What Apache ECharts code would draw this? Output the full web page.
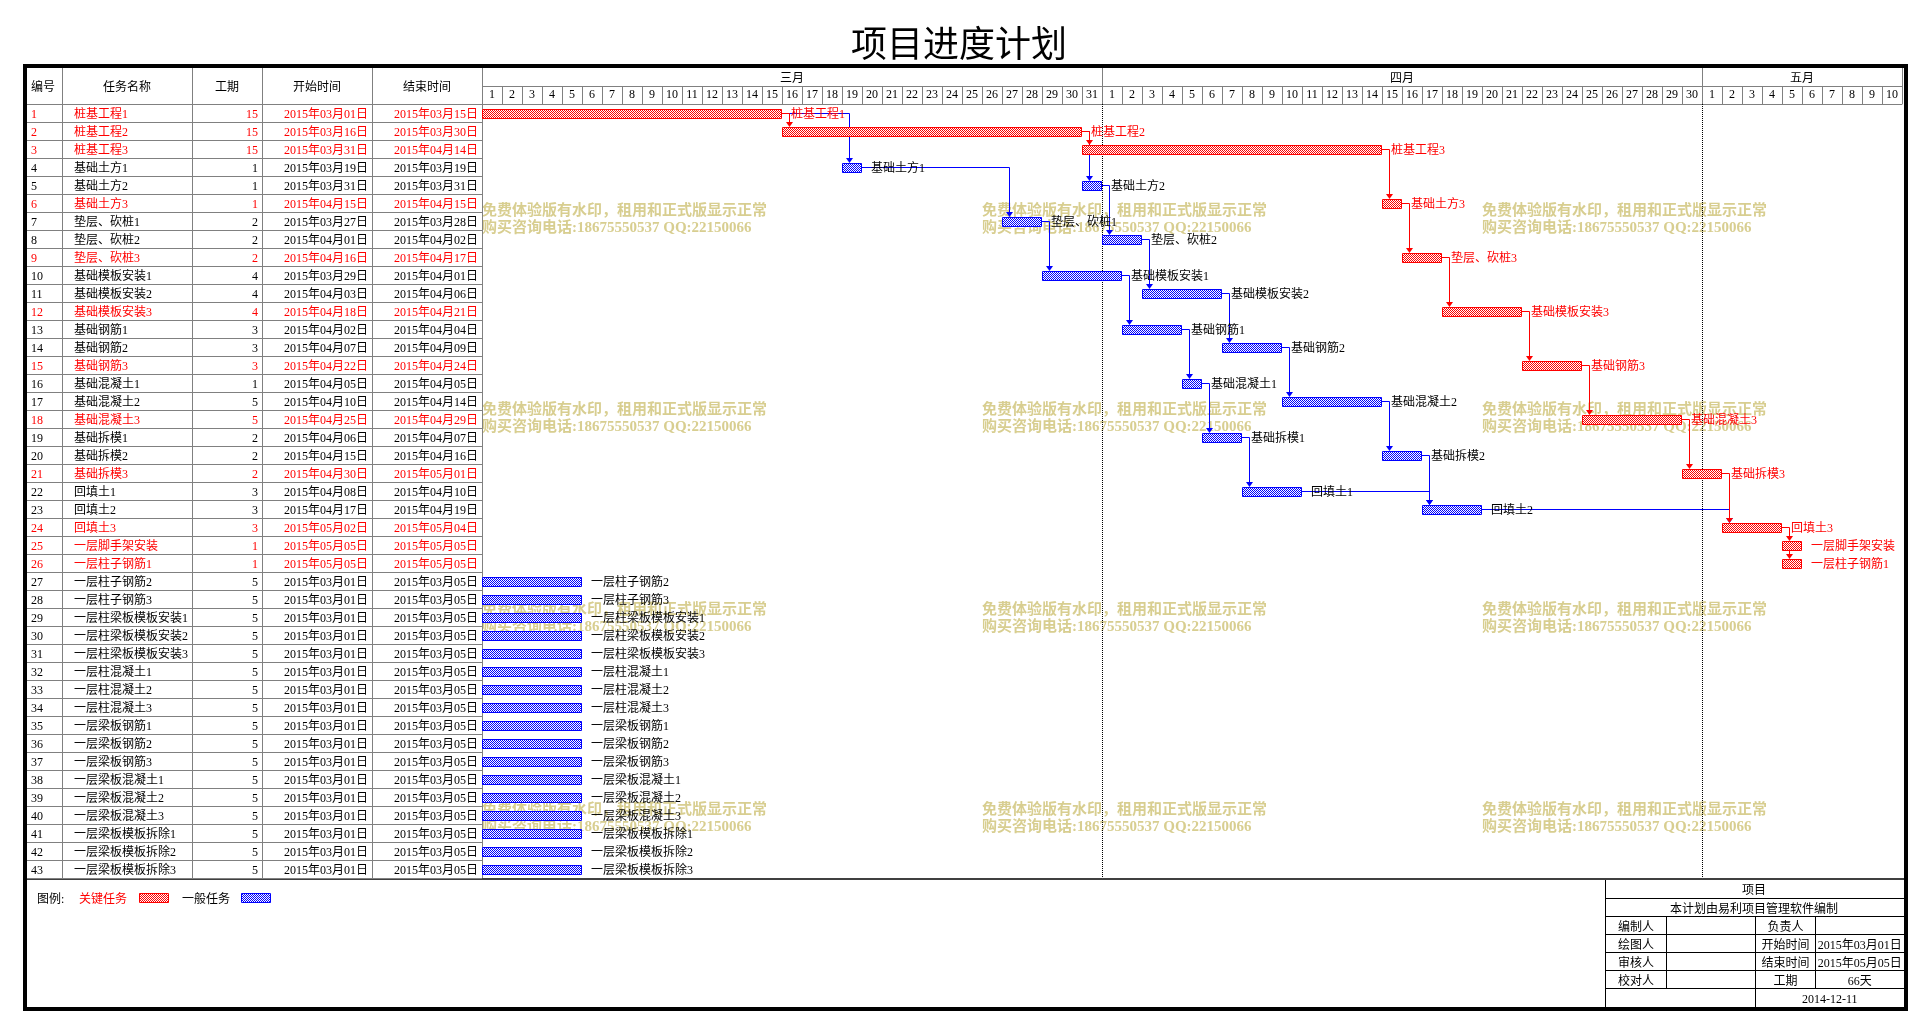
<!DOCTYPE html>
<html><head><meta charset="utf-8">
<script src="https://cdn.jsdelivr.net/npm/echarts@6/dist/echarts.min.js"></script>
<style>html,body{margin:0;padding:0;background:#fff}#main{width:1929px;height:1033px}</style>
</head><body><div id="main"></div>
<script>
// ---------------- DATA ----------------
const chartTitle = '项目进度计划';
const columnHeaders = ['编号', '任务名称', '工期', '开始时间', '结束时间'];
const monthNames = ['三月', '四月', '五月'];
const monthLengths = [31, 30, 10];
const dayLabels = ['1','2','3','4','5','6','7','8','9','10','11','12','13','14','15','16','17','18','19','20','21','22','23','24','25','26','27','28','29','30','31',
  '1','2','3','4','5','6','7','8','9','10','11','12','13','14','15','16','17','18','19','20','21','22','23','24','25','26','27','28','29','30',
  '1','2','3','4','5','6','7','8','9','10'];
const taskIds = [1,2,3,4,5,6,7,8,9,10,11,12,13,14,15,16,17,18,19,20,21,22,23,24,25,26,27,28,29,30,31,32,33,34,35,36,37,38,39,40,41,42,43];
const taskNames = ['桩基工程1','桩基工程2','桩基工程3','基础土方1','基础土方2','基础土方3','垫层、砍桩1','垫层、砍桩2','垫层、砍桩3',
  '基础模板安装1','基础模板安装2','基础模板安装3','基础钢筋1','基础钢筋2','基础钢筋3','基础混凝土1','基础混凝土2','基础混凝土3',
  '基础拆模1','基础拆模2','基础拆模3','回填土1','回填土2','回填土3','一层脚手架安装','一层柱子钢筋1','一层柱子钢筋2','一层柱子钢筋3',
  '一层柱梁板模板安装1','一层柱梁板模板安装2','一层柱梁板模板安装3','一层柱混凝土1','一层柱混凝土2','一层柱混凝土3',
  '一层梁板钢筋1','一层梁板钢筋2','一层梁板钢筋3','一层梁板混凝土1','一层梁板混凝土2','一层梁板混凝土3',
  '一层梁板模板拆除1','一层梁板模板拆除2','一层梁板模板拆除3'];
const durations = [15,15,15,1,1,1,2,2,2,4,4,4,3,3,3,1,5,5,2,2,2,3,3,3,1,1,5,5,5,5,5,5,5,5,5,5,5,5,5,5,5,5,5];
const startDates = ['2015年03月01日','2015年03月16日','2015年03月31日','2015年03月19日','2015年03月31日','2015年04月15日',
  '2015年03月27日','2015年04月01日','2015年04月16日','2015年03月29日','2015年04月03日','2015年04月18日',
  '2015年04月02日','2015年04月07日','2015年04月22日','2015年04月05日','2015年04月10日','2015年04月25日',
  '2015年04月06日','2015年04月15日','2015年04月30日','2015年04月08日','2015年04月17日','2015年05月02日',
  '2015年05月05日','2015年05月05日','2015年03月01日','2015年03月01日','2015年03月01日','2015年03月01日',
  '2015年03月01日','2015年03月01日','2015年03月01日','2015年03月01日','2015年03月01日','2015年03月01日',
  '2015年03月01日','2015年03月01日','2015年03月01日','2015年03月01日','2015年03月01日','2015年03月01日','2015年03月01日'];
const endDates = ['2015年03月15日','2015年03月30日','2015年04月14日','2015年03月19日','2015年03月31日','2015年04月15日',
  '2015年03月28日','2015年04月02日','2015年04月17日','2015年04月01日','2015年04月06日','2015年04月21日',
  '2015年04月04日','2015年04月09日','2015年04月24日','2015年04月05日','2015年04月14日','2015年04月29日',
  '2015年04月07日','2015年04月16日','2015年05月01日','2015年04月10日','2015年04月19日','2015年05月04日',
  '2015年05月05日','2015年05月05日','2015年03月05日','2015年03月05日','2015年03月05日','2015年03月05日',
  '2015年03月05日','2015年03月05日','2015年03月05日','2015年03月05日','2015年03月05日','2015年03月05日',
  '2015年03月05日','2015年03月05日','2015年03月05日','2015年03月05日','2015年03月05日','2015年03月05日','2015年03月05日'];
const critical = [1,1,1,0,0,1,0,0,1,0,0,1,0,0,1,0,0,1,0,0,1,0,0,1,1,1,0,0,0,0,0,0,0,0,0,0,0,0,0,0,0,0,0];
const predecessors = [[],[1],[2],[1],[2],[3],[4],[5],[6],[7],[8],[9],[10],[11],[12],[13],[14],[15],[16],[17],[18],[19],[20,22],[21,23],[24],[25],
  [],[],[],[],[],[],[],[],[],[],[],[],[],[],[],[],[]];
const legendTitle = '图例:';
const legendItems = ['关键任务', '一般任务'];
const infoHeader = '项目';
const infoNote = '本计划由易利项目管理软件编制';
const infoLeftLabels = ['编制人', '绘图人', '审核人', '校对人'];
const infoRightLabels = ['负责人', '开始时间', '结束时间', '工期'];
const infoRightValues = ['', '2015年03月01日', '2015年05月05日', '66天'];
const infoDate = '2014-12-11';
const watermarkLines = ['免费体验版有水印，租用和正式版显示正常', '购买咨询电话:18675550537 QQ:22150066'];

// ---------------- DERIVED ----------------
const ORIGIN = Date.UTC(2015, 2, 1);
function dayOff(s) { const m = s.match(/(\d+)年(\d+)月(\d+)日/); return Math.round((Date.UTC(+m[1], +m[2] - 1, +m[3]) - ORIGIN) / 86400000); }
const startOff = startDates.map(dayOff);
const endOff = endDates.map(d => dayOff(d) + 1);
const totalDays = monthLengths.reduce((a, b) => a + b, 0);
const monthRanges = []; { let c = 0; monthLengths.forEach((n, k) => { monthRanges.push([c, c + n, k]); c += n; }); }
const links = [];
predecessors.forEach((ps, t) => ps.forEach(p => links.push([p - 1, t, (critical[p - 1] && critical[t]) ? 1 : 0])));
links.sort((a, b) => a[2] - b[2]);

// ---------------- STYLE ----------------
const FONTFAM = '"Liberation Serif", "Noto Sans CJK SC", serif';
const FONT = '12px ' + FONTFAM;
const TY = 2; // baseline nudge for mixed-font text
const RED = '#ff0000', BLUE = '#0000ff', GRID = '#808080';
function pattern(color) {
  const c = document.createElement('canvas'); c.width = 2; c.height = 2;
  const g = c.getContext('2d'); g.fillStyle = '#ffffff'; g.fillRect(0, 0, 2, 2);
  g.fillStyle = color; g.fillRect(0, 0, 1, 1); g.fillRect(1, 1, 1, 1);
  return { image: c, repeat: 'repeat' };
}
const redPat = pattern(RED), bluePat = pattern(BLUE);
function txt(x, y, text, fill, align, font) {
  return { type: 'text', x: x, y: y + TY, silent: true, style: { text: text, fill: fill, font: font || FONT, align: align || 'left', verticalAlign: 'middle', textAlign: align || 'left', textVerticalAlign: 'middle' } };
}
function ln(x1, y1, x2, y2, stroke, lw, dash) {
  return { type: 'line', silent: true, shape: { x1: x1, y1: y1, x2: x2, y2: y2 }, style: { stroke: stroke, lineWidth: lw || 1, lineDash: dash || null } };
}

// table layout (pixels)
const colLines = [62.5, 192.5, 262.5, 372.5, 482.5];
const headerCenters = [43, 127, 227, 317, 427];

const chart = echarts.init(document.getElementById('main'));
const gfx = [];
// watermarks
[482, 982, 1482].forEach(x => [209, 408, 608, 808].forEach(y => {
  gfx.push(Object.assign(txt(x, y, watermarkLines[0], '#d8ce90', 'left', 'bold 15px ' + FONTFAM), { z: -10 }));
  gfx.push(Object.assign(txt(x, y + 17, watermarkLines[1], '#d8ce90', 'left', 'bold 15px ' + FONTFAM), { z: -10 }));
}));
colLines.forEach(x => gfx.push(ln(x, 68, x, 878, GRID)));
gfx.push(ln(24, 104.5, 482, 104.5, GRID));
columnHeaders.forEach((h, k) => gfx.push(txt(headerCenters[k], 86, h, '#000', 'center')));
gfx.push(ln(24, 879, 1905, 879, '#404040', 2));
// legend
gfx.push(txt(37, 898, legendTitle, '#000'));
gfx.push(txt(79, 898, legendItems[0], RED));
gfx.push({ type: 'rect', silent: true, shape: { x: 139.5, y: 893.5, width: 29, height: 9 }, style: { fill: redPat, stroke: RED, lineWidth: 1 } });
gfx.push(txt(182, 898, legendItems[1], '#000'));
gfx.push({ type: 'rect', silent: true, shape: { x: 241.5, y: 893.5, width: 29, height: 9 }, style: { fill: bluePat, stroke: BLUE, lineWidth: 1 } });
// info box
const ib = { x0: 1605.5, x1: 1666.5, x2: 1755.5, x3: 1815.5, x4: 1904 };
const rowsY = [880, 898.5, 916.5, 934.5, 952.5, 970.5, 988.5, 1007];
gfx.push(ln(ib.x0, 880, ib.x0, 1008, '#000'));
for (let r = 1; r < 7; r++) gfx.push(ln(ib.x0, rowsY[r], ib.x4, rowsY[r], '#000'));
gfx.push(ln(ib.x1, rowsY[2], ib.x1, rowsY[6], '#000'));
gfx.push(ln(ib.x2, rowsY[2], ib.x2, rowsY[7], '#000'));
gfx.push(ln(ib.x3, rowsY[2], ib.x3, rowsY[6], '#000'));
gfx.push(txt(1754, (rowsY[0] + rowsY[1]) / 2, infoHeader, '#000', 'center'));
gfx.push(txt(1754, (rowsY[1] + rowsY[2]) / 2, infoNote, '#000', 'center'));
for (let r = 0; r < 4; r++) {
  const yc = (rowsY[r + 2] + rowsY[r + 3]) / 2;
  gfx.push(txt((ib.x0 + ib.x1) / 2, yc, infoLeftLabels[r], '#000', 'center'));
  gfx.push(txt((ib.x2 + ib.x3) / 2, yc, infoRightLabels[r], '#000', 'center'));
  if (infoRightValues[r]) gfx.push(txt((ib.x3 + ib.x4) / 2, yc, infoRightValues[r], '#000', 'center'));
}
gfx.push(txt((ib.x2 + ib.x4) / 2, (rowsY[6] + rowsY[7]) / 2, infoDate, '#000', 'center'));
// outer frame
gfx.push({ type: 'rect', silent: true, z: 100, shape: { x: 25, y: 66, width: 1881, height: 943 }, style: { fill: 'none', stroke: '#000', lineWidth: 4 } });

const option = {
  animation: false,
  backgroundColor: '#ffffff',
  title: { text: chartTitle, left: 954, top: 25, textAlign: 'center', textStyle: { fontSize: 36, fontWeight: 'normal', color: '#000', fontFamily: FONTFAM } },
  grid: { left: 482, top: 104, width: 1420, height: 774, containLabel: false, show: false },
  xAxis: [
    { type: 'value', min: 0, max: totalDays, show: false },
    { type: 'category', position: 'top', data: dayLabels, boundaryGap: true,
      axisLine: { show: true, lineStyle: { color: GRID, width: 1 } },
      axisTick: { show: true, interval: 0, length: 18, lineStyle: { color: GRID } },
      axisLabel: { interval: 0, margin: 3, color: '#000', fontSize: 12, fontFamily: FONTFAM },
      splitLine: { show: false } }
  ],
  yAxis: [{ type: 'value', min: 0, max: taskIds.length, inverse: true, show: false }],
  graphic: gfx,
  series: [
    { // months header + dotted month separators
      type: 'custom', silent: true, z: 1, xAxisIndex: 0, yAxisIndex: 0,
      data: monthRanges,
      renderItem(params, api) {
        const a = api.coord([api.value(0), 0]), b = api.coord([api.value(1), 0]);
        const top = a[1], bottom = api.coord([0, taskIds.length])[1];
        const xe = Math.round(b[0]) + 0.5;
        const ch = [
          txt((a[0] + b[0]) / 2, top - 27, monthNames[params.dataIndex], '#000', 'center'),
          ln(a[0], top - 17.5, b[0], top - 17.5, GRID),
          ln(xe, top - 36, xe, top, GRID)
        ];
        if (params.dataIndex < monthRanges.length - 1) ch.push(ln(xe, top, xe, bottom, '#000', 1, [1, 1]));
        return { type: 'group', children: ch };
      }
    },
    { // table rows
      type: 'custom', silent: true, z: 3, xAxisIndex: 0, yAxisIndex: 0,
      data: taskIds.map((id, i) => [0, i]),
      renderItem(params, api) {
        const i = params.dataIndex;
        const top = api.coord([0, i])[1], bot = api.coord([0, i + 1])[1], yc = (top + bot) / 2;
        const c = critical[i] ? RED : '#000';
        return { type: 'group', children: [
          ln(24, Math.round(bot) + 0.5, 482, Math.round(bot) + 0.5, GRID),
          txt(31, yc, String(taskIds[i]), c, 'left'),
          txt(74, yc, taskNames[i], c, 'left'),
          txt(258, yc, String(durations[i]), c, 'right'),
          txt(368, yc, startDates[i], c, 'right'),
          txt(478, yc, endDates[i], c, 'right')
        ] };
      }
    },
    { // dependency links
      type: 'custom', silent: true, z: 4, xAxisIndex: 0, yAxisIndex: 0,
      data: links,
      renderItem(params, api) {
        const f = api.value(0), t = api.value(1);
        const col = api.value(2) ? RED : BLUE;
        const fe = api.coord([endOff[f], f + 0.5]);
        const ts = api.coord([startOff[t], t + 0.5]);
        const ax = Math.round(ts[0] + 7) + 0.5;
        const barTop = Math.round(ts[1] - 4.5);
        const fy = Math.round(fe[1]) + 0.5;
        const pts = ax > fe[0] ? [[fe[0], fy], [ax, fy], [ax, barTop - 4]] : [[ax, Math.round(fe[1] + 4.5)], [ax, barTop - 4]];
        return { type: 'group', children: [
          { type: 'polyline', shape: { points: pts }, style: { stroke: col, lineWidth: 1, fill: null } },
          { type: 'polygon', shape: { points: [[ax - 3.5, barTop - 5], [ax + 3.5, barTop - 5], [ax, barTop]] }, style: { fill: col, stroke: null } }
        ] };
      }
    },
    { // bars
      type: 'custom', silent: true, z: 5, xAxisIndex: 0, yAxisIndex: 0,
      data: taskIds.map((id, i) => [startOff[i], i, endOff[i], critical[i]]),
      renderItem(params, api) {
        const p0 = api.coord([api.value(0), api.value(1)]);
        const p1 = api.coord([api.value(2), api.value(1) + 1]);
        const yc = (p0[1] + p1[1]) / 2;
        const crit = api.value(3);
        return { type: 'rect', shape: { x: Math.round(p0[0]) + 0.5, y: Math.round(yc - 4.5) + 0.5, width: Math.round(p1[0] - p0[0]) - 1, height: 9 },
          style: { fill: crit ? redPat : bluePat, stroke: crit ? RED : BLUE, lineWidth: 1 } };
      }
    },
    { // bar labels
      type: 'custom', silent: true, z: 6, xAxisIndex: 0, yAxisIndex: 0,
      data: taskIds.map((id, i) => [endOff[i], i]),
      renderItem(params, api) {
        const i = params.dataIndex;
        const p = api.coord([api.value(0), api.value(1) + 0.5]);
        return txt(p[0] + 9, p[1], taskNames[i], critical[i] ? RED : '#000', 'left');
      }
    }
  ]
};
chart.setOption(option);
</script></body></html>
